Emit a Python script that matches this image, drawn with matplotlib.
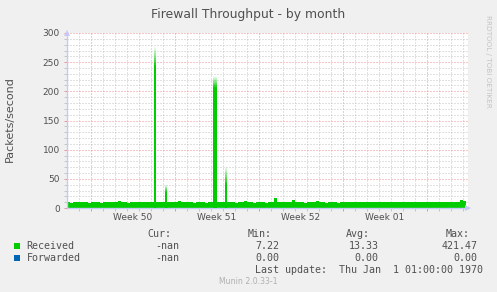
import numpy as np
import matplotlib
matplotlib.use("Agg")
import matplotlib.pyplot as plt
from matplotlib.patches import Rectangle
from matplotlib.transforms import blended_transform_factory

# ---------------- data ----------------
title = "Firewall Throughput - by month"
ylabel = "Packets/second"
week_labels = ["Week 50", "Week 51", "Week 52", "Week 01"]
week_label_day = [5.5, 12.5, 19.5, 26.5]
week_boundary_day = [2, 9, 16, 23, 30]
sample_step_day = 0.25

received_base = [
    9.5, 9.0, 10.0, 9.5, 9.5, 10.5, 9.5, 9.0, 9.5, 9.5,
    9.5, 9.0, 9.5, 9.5, 10.0, 9.5, 9.5, 12.0, 10.0, 9.5,
    9.0, 9.5, 9.5, 9.5, 10.0, 11.0, 9.5, 9.5, 9.5, 10.0,
    10.5, 10.0, 10.0, 10.5, 10.0, 10.5, 11.0, 11.5, 11.0, 10.5,
    10.0, 9.5, 9.0, 9.5, 9.5, 9.5, 9.0, 9.5, 10.0, 10.5,
    10.5, 10.0, 9.5, 10.0, 9.5, 9.5, 9.0, 9.5, 9.5, 12.0,
    9.5, 9.5, 9.0, 9.5, 9.5, 9.5, 9.0, 9.5, 9.5, 18.0,
    10.0, 9.5, 9.5, 9.5, 9.5, 14.0, 10.0, 9.5, 9.5, 9.0,
    9.5, 9.5, 9.5, 11.5, 9.5, 9.5, 9.0, 9.5, 9.5, 9.5,
    9.0, 9.5, 9.5, 9.5, 10.0, 9.5, 9.5, 9.5, 10.0, 11.0,
    9.5, 9.5, 9.5, 10.0, 9.5, 9.5, 10.0, 9.5, 9.5, 10.0,
    9.5, 10.0, 9.5, 9.5, 10.0, 9.5, 10.0, 9.5, 10.0, 10.0,
    9.5, 10.0, 10.0, 9.5, 10.0, 10.5, 10.0, 10.5, 10.5, 11.0,
    11.0, 13.0, 12.0,
]

# spikes (start day, width in days, peak value, value where the fade begins)
spike_start = [7.21, 8.19, 12.2, 13.18]
spike_width = [0.22, 0.12, 0.3, 0.13]
spike_peak = [277, 40, 226, 72]
spike_solid = [242, 27, 205, 40]

series_names = ["Received", "Forwarded"]
cur_vals = ["-nan", "-nan"]
min_vals = ["7.22", "0.00"]
avg_vals = ["13.33", "0.00"]
max_vals = ["421.47", "0.00"]
last_update = "Last update:  Thu Jan  1 01:00:00 1970"
version = "Munin 2.0.33-1"
watermark = "RRDTOOL / TOBI OETIKER"

# ---------------- style ----------------
W, H = 497, 292
BG = "#F0F0F0"
GREEN = "#00CC00"
BLUE = "#0066B3"
TXT = "#505050"
AXIS = "#C8C8F8"
MAJ = "#F09090"
MIN = "#C4C4C4"

fig = plt.figure(figsize=(W / 100, H / 100), dpi=100, facecolor=BG)
L, R, T, B = 67, 468, 33, 208
ax = fig.add_axes([L / W, 1 - B / H, (R - L) / W, (B - T) / H])
ax.set_facecolor("white")

xmax = (R - L) / 12.0
ax.set_xlim(0, xmax)
ax.set_ylim(0, 300)

# grid
ax.set_xticks(week_boundary_day)
ax.set_xticks([d for d in range(1, 34) if d not in week_boundary_day], minor=True)
ax.set_xticklabels([])
ax.set_yticks(np.arange(0, 301, 50))
ax.set_yticks([v for v in range(10, 300, 10) if v % 50], minor=True)
ax.grid(which="major", color=MAJ, linestyle=(0, (1, 2)), linewidth=0.72)
ax.grid(which="minor", color=MIN, linestyle=(0, (1, 2)), linewidth=0.72)
ax.set_axisbelow(True)

ax.tick_params(axis="both", which="major", length=2.2, width=0.7, color=MAJ,
               labelsize=6.5, labelcolor=TXT, pad=3)
ax.tick_params(axis="both", which="minor", length=2.2, width=0.7, color=MIN)
for s in ["top", "right"]:
    ax.spines[s].set_visible(False)
for s in ["left", "bottom"]:
    ax.spines[s].set_color(AXIS)
    ax.spines[s].set_linewidth(1.0)

# data
edges = np.arange(len(received_base) + 1) * sample_step_day
ax.stairs(received_base, edges, fill=True, color=GREEN, baseline=0, zorder=2)

nseg = 12
for x0, w, pk, so in zip(spike_start, spike_width, spike_peak, spike_solid):
    ax.bar(x0, so, width=w, align="edge", color=GREEN, linewidth=0, zorder=3)
    step = (pk - so) / nseg
    for k in range(nseg):
        ax.bar(x0, step, bottom=so + k * step, width=w, align="edge",
               color=GREEN, alpha=1 - (k + 0.5) / nseg, linewidth=0, zorder=3)

# arrows on axes
ax.plot([0], [1.0], transform=ax.transAxes, marker="^", ms=4, color=AXIS,
        clip_on=False, zorder=5, markeredgewidth=0)
ax.plot([1.0], [0], transform=ax.transAxes, marker=">", ms=4, color=AXIS,
        clip_on=False, zorder=5, markeredgewidth=0)

# week labels
tr = blended_transform_factory(ax.transData, fig.transFigure)
for d, lab in zip(week_label_day, week_labels):
    ax.text(d, 1 - 220 / H, lab, transform=tr, ha="center", va="baseline",
            fontsize=6.5, color=TXT)

def ft(x, y, s, **kw):
    fig.text(x / W, 1 - y / H, s, **kw)

ft(248, 18.3, title, ha="center", va="baseline", fontsize=8.9, color=TXT)
ft(10, 119, ylabel, ha="center", va="center", rotation=90, fontsize=8, color=TXT)
ft(488, 61.5, watermark, ha="center", va="center", rotation=-90, fontsize=5.2,
   color="#C4C4C4")

mono = dict(family="DejaVu Sans Mono", fontsize=7.2, color=TXT, va="baseline")
ft(171, 237.3, "Cur:", ha="right", **mono)
ft(271.3, 237.3, "Min:", ha="right", **mono)
ft(370, 237.3, "Avg:", ha="right", **mono)
ft(470, 237.3, "Max:", ha="right", **mono)

colors = [GREEN, BLUE]
for i, name in enumerate(series_names):
    yb = 249.3 + 12 * i
    top = 242.7 + 12 * i
    fig.patches.append(Rectangle((14 / W, 1 - (top + 6) / H), 6 / W, 6 / H,
                                 transform=fig.transFigure, facecolor=colors[i],
                                 edgecolor="none"))
    ft(26.7, yb, name, ha="left", **mono)
    ft(179, yb, cur_vals[i], ha="right", **mono)
    ft(279.3, yb, min_vals[i], ha="right", **mono)
    ft(378.3, yb, avg_vals[i], ha="right", **mono)
    ft(477.7, yb, max_vals[i], ha="right", **mono)

ft(482.7, 273.3, last_update, ha="right", **mono)
ft(248.5, 284, version, ha="center", va="baseline", fontsize=5.6, color="#B0B0B0")

fig.savefig("out.png", dpi=100, facecolor=BG)
